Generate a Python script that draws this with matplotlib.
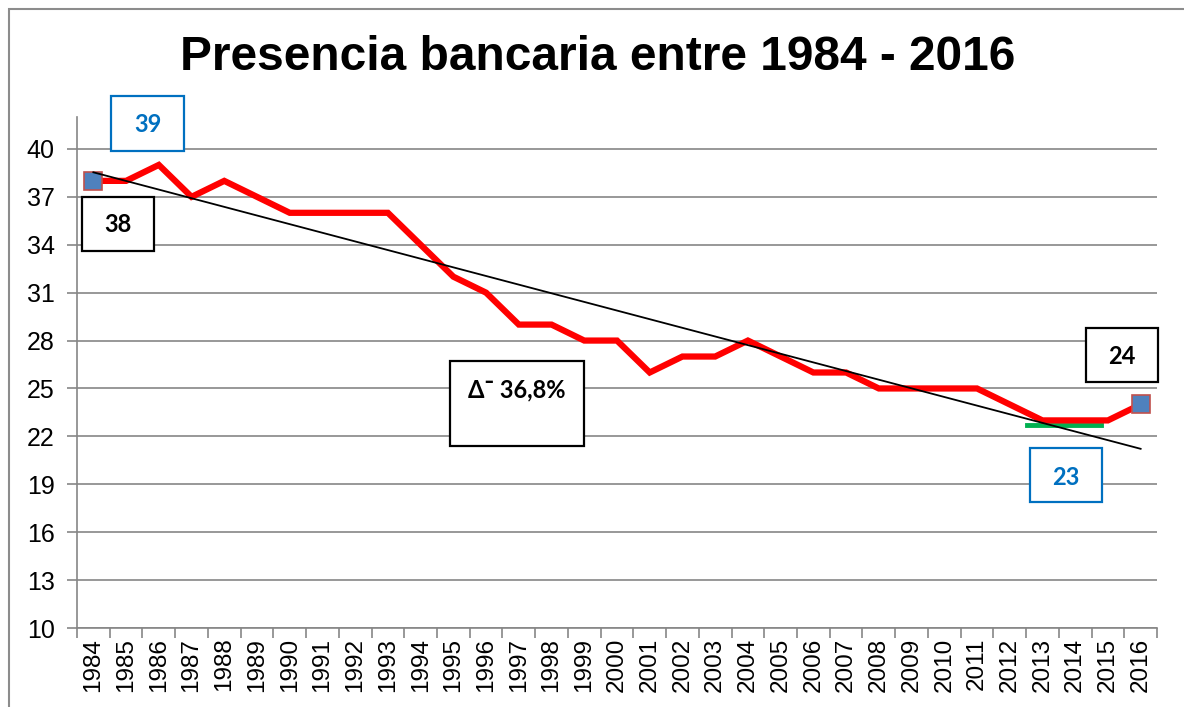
import matplotlib as mp
mp.use('Agg')
import matplotlib.pyplot as plt
import matplotlib.patches as pat
import numpy as np

# data
years = [str(y) for y in range(1984, 2017)]
banks = [38, 38, 39, 37, 38, 37, 36, 36, 36, 36, 34, 32, 31, 29, 29, 28, 28,
         26, 27, 27, 28, 27, 26, 26, 25, 25, 25, 25, 24, 23, 23, 23, 24]
yticks = list(range(10, 41, 3))
title = 'Presencia bancaria entre 1984 - 2016'
delta_txt = 'Δ\u00af 36,8%'

grid_c = '#868686'
blue = '#0070C0'
box_font = ['Lato', 'DejaVu Sans']

fig = plt.figure(figsize=(11.84, 7.07), dpi=100)
ax = fig.add_axes([77/1184, 79/707, 1080/1184, 511/707])

x = np.arange(len(years))
ax.plot(x, banks, color='red', lw=4.5, zorder=3, solid_joinstyle='miter')

# first / last point markers
ends = [0, len(x)-1]
ax.plot(x[ends], np.array(banks)[ends], ls='none', marker='s', ms=13.5,
        mfc='#4F81BD', mec='#C0504D', mew=1.2, zorder=4)

# linear trend line
k, b = np.polyfit(x, banks, 1)
ax.plot([x[0], x[-1]], [k*x[0]+b, k*x[-1]+b], color='black', lw=1.3, zorder=5)

# green marker of the minimum
ax.plot([28.53, 30.79], [22.69, 22.69], color='#00B050', lw=3.5, zorder=2)

ax.set_xlim(-0.5, len(x)-0.5)
ax.set_ylim(10, 42)
ax.set_yticks(yticks)
ax.set_xticks(x)
ax.set_xticklabels(years, rotation=90, fontsize=17.5, family='Liberation Sans')
ax.set_xticks(np.arange(-0.5, len(x)), minor=True)
ax.tick_params(axis='x', which='major', length=0, pad=7)
ax.tick_params(axis='x', which='minor', length=7, color=grid_c, width=1.2, direction='out')
ax.tick_params(axis='y', length=7, color=grid_c, width=1.2, labelsize=18, pad=9)
for lab in ax.get_yticklabels():
    lab.set_family('Liberation Sans')
ax.yaxis.grid(True, color=grid_c, lw=1.2)
ax.set_axisbelow(True)
for s in ['top', 'right']:
    ax.spines[s].set_visible(False)
for s in ['left', 'bottom']:
    ax.spines[s].set_color(grid_c)
    ax.spines[s].set_linewidth(1.2)

# annotation boxes: (x0, x1, y0, y1, text, text y, colour)
boxes = [
    (0.54, 2.77, 39.9, 43.3, '39', 41.56, blue),
    (-0.35, 1.85, 33.6, 37.0, '38', 35.25, 'black'),
    (10.9, 15.0, 21.4, 26.75, delta_txt, 24.94, 'black'),
    (30.33, 32.53, 25.4, 28.8, '24', 27.0, 'black'),
    (28.62, 30.82, 17.9, 21.3, '23', 19.44, blue),
]
for x0, x1, y0, y1, txt, ty, c in boxes:
    ax.add_patch(pat.Rectangle((x0, y0), x1-x0, y1-y0, fill=True, fc='white',
                               ec=c, lw=1.6, zorder=6, clip_on=False))
    ax.text((x0+x1)/2, ty, txt, ha='center', va='center', color=c,
            fontsize=17, fontweight='bold', family=box_font, zorder=7)

fig.text(598/1184, 1-57/707, title, ha='center', va='center', fontsize=34.5,
         fontweight='bold', family='Liberation Sans')

# chart area frame
fig.patches.append(pat.Rectangle((9/1184, -0.05), 1.1, 1-9/707+0.05,
                                 transform=fig.transFigure, fill=False,
                                 ec='#8c8c8c', lw=1.5))

fig.savefig('out.png', dpi=100)
